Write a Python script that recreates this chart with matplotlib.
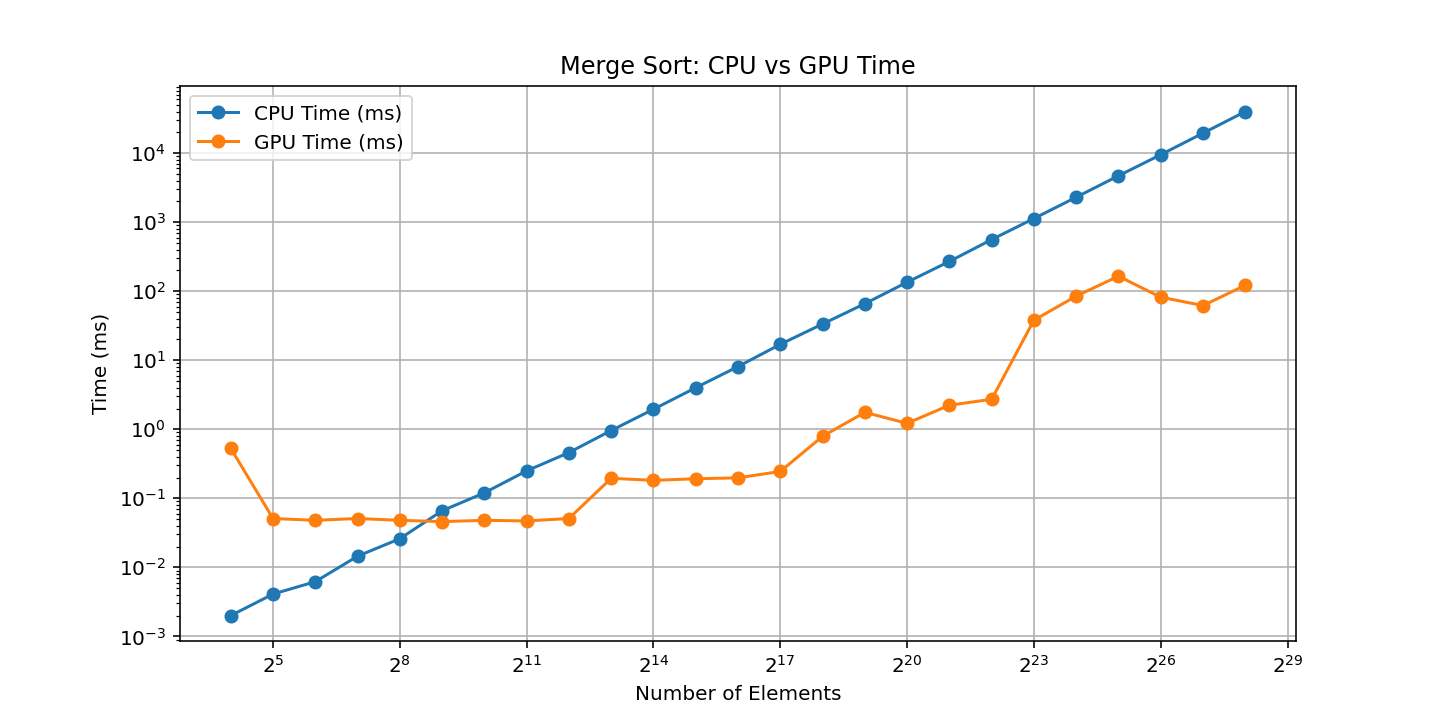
import matplotlib
matplotlib.use('Agg')
import matplotlib.pyplot as plt

sizes = [2 ** p for p in range(4, 29)]
cpu_ms = [0.002, 0.0041, 0.0062, 0.0145, 0.026, 0.066, 0.12, 0.25, 0.46,
          0.96, 1.95, 4.0, 8.1, 17, 33.5, 66, 135, 270, 560, 1130,
          2300, 4700, 9500, 19500, 40000]
gpu_ms = [0.53, 0.051, 0.048, 0.051, 0.048, 0.046, 0.048, 0.047, 0.051,
          0.195, 0.182, 0.192, 0.198, 0.245, 0.79, 1.76, 1.22, 2.23, 2.72,
          38, 85, 165, 82, 62, 122]

fig = plt.figure(figsize=(10, 5), dpi=144)
plt.plot(sizes, cpu_ms, marker='o', label='CPU Time (ms)')
plt.plot(sizes, gpu_ms, marker='o', label='GPU Time (ms)')
plt.xscale('log', base=2)
plt.yscale('log')
plt.xlabel('Number of Elements')
plt.ylabel('Time (ms)')
plt.title('Merge Sort: CPU vs GPU Time')
plt.legend()
plt.grid(True)
fig.savefig('out.png')
plt.close(fig)
